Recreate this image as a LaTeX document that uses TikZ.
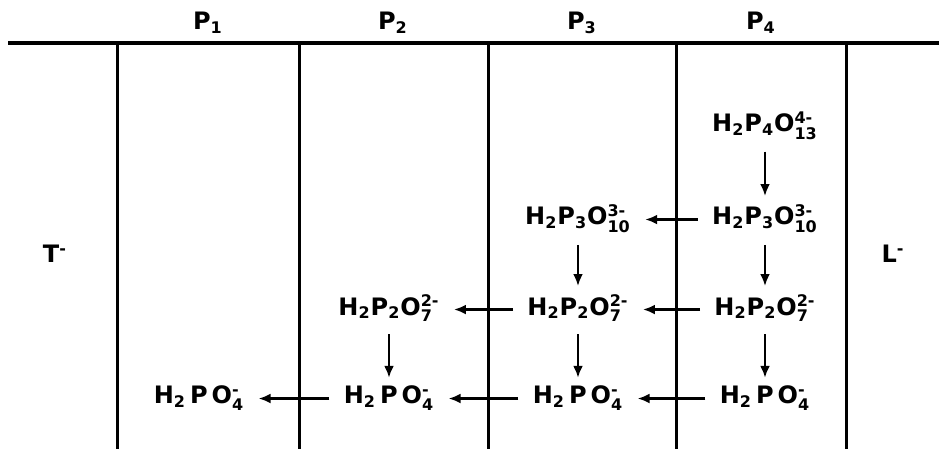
\documentclass[tikz,border=0pt]{standalone}
\usepackage{amsmath}
\usepackage{fontspec}
\setmainfont{DejaVu Sans}
\usetikzlibrary{arrows.meta}
\newcommand{\chsub}[1]{$_{\text{#1}}$}
\newcommand{\chsup}[1]{$^{\text{#1}}$}
\newcommand{\chion}[2]{$^{\text{#2}}_{\text{#1}}$}

\begin{document}
\begin{tikzpicture}[x=0.5pt, y=-0.5pt, >={Latex[length=6pt,width=5pt]},
	every node/.style={font=\fontsize{12}{14}\selectfont\bfseries, inner sep=0pt, anchor=base},
	flow/.style={->, line width=1.3pt, shorten <=6pt, shorten >=4pt}]
	\useasboundingbox (0,0) rectangle (939,449);
	% frame
	\draw[line width=2pt] (8,43) -- (939,43);
	\foreach \x in {117,299,488,676,846} \draw[line width=1.5pt] (\x,43) -- (\x,449);
	% column heads
	\node (head1) at (208,30) {P\chsub{1}};
	\node (head2) at (393,30) {P\chsub{2}};
	\node (head3) at (582,30) {P\chsub{3}};
	\node (head4) at (761,30) {P\chsub{4}};
	\node (tside) at (55,263) {T\chsup{-}};
	\node (lside) at (893,263) {L\chsup{-}};
	% species
	\node (c4r1) at (765,132) {H\chsub{2}P\chsub{4}O\chion{13}{4-}};
	\node (c4r2) at (765,225) {H\chsub{2}P\chsub{3}O\chion{10}{3-}};
	\node (c3r2) at (578,225) {H\chsub{2}P\chsub{3}O\chion{10}{3-}};
	\node (c4r3) at (765,315) {H\chsub{2}P\chsub{2}O\chion{7}{2-}};
	\node (c3r3) at (578,315) {H\chsub{2}P\chsub{2}O\chion{7}{2-}};
	\node (c2r3) at (389,315) {H\chsub{2}P\chsub{2}O\chion{7}{2-}};
	\node (c4r4) at (765,404) {H\chsub{2}\,P\,O\chion{4}{-}};
	\node (c3r4) at (578,404) {H\chsub{2}\,P\,O\chion{4}{-}};
	\node (c2r4) at (389,404) {H\chsub{2}\,P\,O\chion{4}{-}};
	\node (c1r4) at (199,404) {H\chsub{2}\,P\,O\chion{4}{-}};
	% reactions
	\draw[flow] (c4r1.south) -- (c4r2.north);
	\draw[flow] (c4r2.south) -- (c4r3.north);
	\draw[flow] (c4r3.south) -- (c4r4.north);
	\draw[flow] (c3r2.south) -- (c3r3.north);
	\draw[flow] (c3r3.south) -- (c3r4.north);
	\draw[flow] (c2r3.south) -- (c2r4.north);
	\draw[flow, shorten <=7pt, shorten >=7pt] (c4r2.mid west) -- (c3r2.mid east);
	\draw[flow, shorten <=7pt, shorten >=7pt] (c4r3.mid west) -- (c3r3.mid east);
	\draw[flow, shorten <=7pt, shorten >=7pt] (c3r3.mid west) -- (c2r3.mid east);
	\draw[flow, shorten <=7pt, shorten >=7pt] (c4r4.mid west) -- (c3r4.mid east);
	\draw[flow, shorten <=7pt, shorten >=7pt] (c3r4.mid west) -- (c2r4.mid east);
	\draw[flow, shorten <=7pt, shorten >=7pt] (c2r4.mid west) -- (c1r4.mid east);
\end{tikzpicture}
\end{document}
